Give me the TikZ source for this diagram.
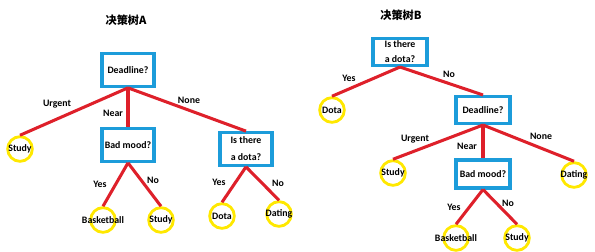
\documentclass[tikz,border=0pt]{standalone}
\usepackage{fontspec}
\setmainfont{Carlito}
\newfontfamily\cjk{Noto Sans CJK SC}
\usepackage{xcolor}
\usetikzlibrary{positioning}

\definecolor{boxblue}{RGB}{28,156,218}
\definecolor{branchred}{RGB}{222,32,42}
\definecolor{leafyellow}{RGB}{255,232,0}

\begin{document}
\begin{tikzpicture}[
      x=0.03cm, y=-0.03cm,
      ask/.style={draw=boxblue, line width=2.6pt, fill=white, inner sep=1.5pt, minimum width=1.56cm, minimum height=0.98cm, align=center, font=\bfseries\fontsize{8.4}{14.5}\selectfont},
      leaf/.style={circle, draw=leafyellow, line width=2.4pt, minimum size=0.74cm, inner sep=0pt, label={[font=\bfseries\fontsize{8.4}{10}\selectfont]center:#1}},
      branch/.style={draw=branchred, line width=2.6pt},
      lbl/.style={font=\bfseries\fontsize{8.4}{10}\selectfont, inner sep=1pt},
      ttl/.style={font=\cjk\bfseries\fontsize{9.5}{11}\selectfont}
  ]
    \useasboundingbox (0,0) rectangle (595,251);

    % tree A
    \node[ttl] (titleA) at (126,20) {决策树A};
    \node[ask] (deadA) at (128,70) {Deadline?};
    \node[ask] (moodA) at (128,145) {Bad mood?};
    \node[ask] (dotaA) at (246,149) {Is there\\a dota?};
    \node[leaf=Study] (studyA1) at (20,149) {};
    \node[leaf=Basketball] (ballA) at (103,220) {};
    \node[leaf=Study] (studyA2) at (161,220) {};
    \node[leaf=Dota] (playA) at (222,216) {};
    \node[leaf=Dating] (dateA) at (279,214) {};
    \draw[branch] (deadA.south) -- (studyA1.north);
    \draw[branch] (deadA.south) -- (moodA.north);
    \draw[branch] (deadA.south) -- (dotaA.north);
    \draw[branch] (moodA.south) -- (ballA.north);
    \draw[branch] (moodA.south) -- (studyA2.north);
    \draw[branch] (dotaA.south) -- (playA.north);
    \draw[branch] (dotaA.south) -- (dateA.north);
    \node[lbl] (urgentA) at (57,104) {Urgent};
    \node[lbl] (nearA) at (113,113) {Near};
    \node[lbl] (noneA) at (189,100) {None};
    \node[lbl] (yesA1) at (100,184) {Yes};
    \node[lbl] (noA1) at (153,180) {No};
    \node[lbl] (yesA2) at (219,182) {Yes};
    \node[lbl] (noA2) at (278,183) {No};

    % tree B
    \node[ttl] (titleB) at (401,15) {决策树B};
    \node[ask, minimum height=0.81cm, minimum width=1.62cm, font=\bfseries\fontsize{8.4}{12.8}\selectfont] (dotaB) at (400,52) {Is there\\a dota?};
    \node[ask, minimum height=0.81cm, minimum width=1.62cm] (deadB) at (483,110) {Deadline?};
    \node[ask, minimum height=0.84cm, minimum width=1.62cm] (moodB) at (483,174) {Bad mood?};
    \node[leaf=Dota] (playB) at (332,110) {};
    \node[leaf=Study] (studyB1) at (393,173) {};
    \node[leaf=Dating] (dateB) at (574,175) {};
    \node[leaf=Basketball] (ballB) at (456,238) {};
    \node[leaf=Study] (studyB2) at (517,238) {};
    \draw[branch] (dotaB.south) -- (playB.north);
    \draw[branch] (dotaB.south) -- (deadB.north);
    \draw[branch] (deadB.south) -- (studyB1.north);
    \draw[branch] (deadB.south) -- (moodB.north);
    \draw[branch] (deadB.south) -- (dateB.north);
    \draw[branch] (moodB.south) -- (ballB.north);
    \draw[branch] (moodB.south) -- (studyB2.north);
    \node[lbl] (yesB1) at (349,78) {Yes};
    \node[lbl] (noB1) at (449,74) {No};
    \node[lbl] (urgentB) at (415,139) {Urgent};
    \node[lbl] (nearB) at (467,146) {Near};
    \node[lbl] (noneB) at (541,136) {None};
    \node[lbl] (yesB2) at (454,207) {Yes};
    \node[lbl] (noB2) at (508,203) {No};
  \end{tikzpicture}
\end{document}
